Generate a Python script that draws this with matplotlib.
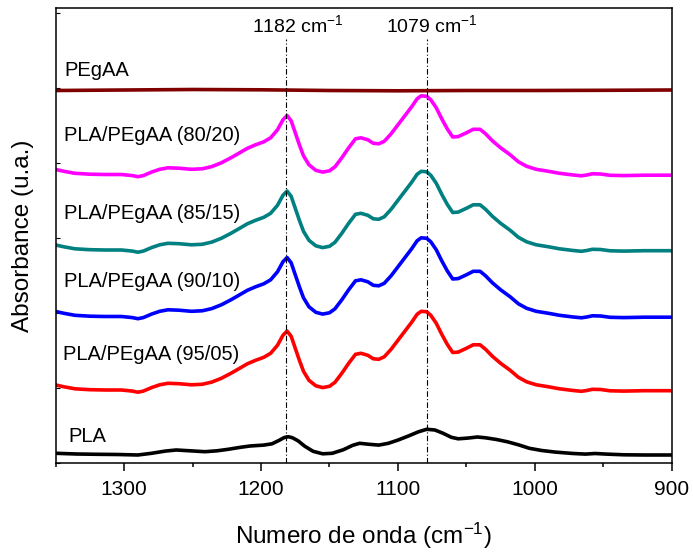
import matplotlib
matplotlib.use("Agg")
import numpy as np
import matplotlib.pyplot as plt
from matplotlib.ticker import MultipleLocator, NullFormatter

plt.rcParams['font.family'] = ['Liberation Sans', 'DejaVu Sans']
plt.rcParams['mathtext.fontset'] = 'custom'
plt.rcParams['mathtext.rm'] = 'Liberation Sans'
plt.rcParams['mathtext.it'] = 'Liberation Sans'

# wavenumber (cm-1) and absorbance (arbitrary units, stacked)
blend_wn = [1350, 1344, 1336, 1325, 1314, 1302, 1294, 1290, 1286, 1280,
            1274, 1268, 1260, 1251, 1243, 1236, 1229, 1222, 1215, 1210,
            1204, 1198, 1193, 1188, 1184, 1181, 1178, 1175, 1172, 1169,
            1165, 1160, 1155, 1150, 1146, 1141, 1136, 1131, 1127, 1122,
            1118, 1114, 1110, 1105, 1100, 1095, 1090, 1086, 1083, 1079,
            1076, 1072, 1068, 1064, 1060, 1056, 1050, 1045, 1040, 1036,
            1031, 1025, 1018, 1012, 1006, 999, 990, 982, 972, 966,
            962, 958, 952, 945, 935, 920, 900]
blend_abs = [0.783, 0.765, 0.745, 0.736, 0.733, 0.733, 0.722, 0.711, 0.722, 0.757,
             0.785, 0.800, 0.796, 0.785, 0.790, 0.812, 0.850, 0.900, 0.955, 0.995,
             1.030, 1.060, 1.100, 1.180, 1.280, 1.323, 1.270, 1.150, 1.030, 0.920,
             0.830, 0.775, 0.757, 0.770, 0.810, 0.900, 1.000, 1.090, 1.100, 1.080,
             1.045, 1.040, 1.065, 1.140, 1.230, 1.320, 1.410, 1.490, 1.520, 1.515,
             1.480, 1.400, 1.290, 1.190, 1.108, 1.112, 1.150, 1.185, 1.185, 1.140,
             1.070, 1.000, 0.930, 0.860, 0.815, 0.785, 0.765, 0.745, 0.728, 0.720,
             0.728, 0.740, 0.738, 0.725, 0.722, 0.726, 0.726]

# vertical offset of each blend in the stack
blend_names = ["PLA/PEgAA (95/05)", "PLA/PEgAA (90/10)", "PLA/PEgAA (85/15)", "PLA/PEgAA (80/20)"]
blend_offsets = [0.0, 0.735, 1.40, 2.155]
blend_colors = ["#FF0000", "#0000FF", "#008080", "#FF00FF"]

pla_wn = [1350, 1335, 1320, 1305, 1290, 1280, 1270, 1262, 1252, 1241,
          1232, 1224, 1215, 1208, 1198, 1192, 1187, 1183, 1180, 1177,
          1173, 1168, 1162, 1155, 1148, 1140, 1133, 1128, 1121, 1114,
          1107, 1100, 1092, 1085, 1079, 1073, 1067, 1061, 1056, 1049,
          1042, 1036, 1028, 1020, 1012, 1004, 995, 985, 972, 963,
          956, 948, 935, 920, 900]
pla_abs = [0.100, 0.093, 0.090, 0.088, 0.083, 0.100, 0.122, 0.133, 0.125, 0.116,
           0.125, 0.140, 0.160, 0.173, 0.182, 0.195, 0.228, 0.258, 0.266, 0.255,
           0.225, 0.170, 0.120, 0.095, 0.100, 0.135, 0.180, 0.200, 0.190, 0.182,
           0.200, 0.232, 0.275, 0.315, 0.340, 0.333, 0.300, 0.260, 0.245, 0.252,
           0.263, 0.255, 0.238, 0.215, 0.185, 0.150, 0.128, 0.112, 0.098, 0.092,
           0.098, 0.092, 0.085, 0.083, 0.083]

pegaa_wn = [1350, 1300, 1250, 1200, 1150, 1100, 1050, 1000, 950, 900]
pegaa_abs = [3.728, 3.733, 3.738, 3.735, 3.728, 3.725, 3.728, 3.728, 3.730, 3.733]

peaks = [1182, 1079]
peak_labels = ["1182 cm$^{-1}$", "1079 cm$^{-1}$"]
peak_label_x = [1173, 1075]

fig = plt.figure(figsize=(6.93, 5.52), dpi=100)
ax = fig.add_axes([0.0804, 0.1607, 0.8889, 0.8248])

lw = 2.6
ax.plot(pla_wn, pla_abs, color="black", lw=lw, solid_joinstyle="round")
for name, off, col in zip(blend_names, blend_offsets, blend_colors):
    ax.plot(blend_wn, np.array(blend_abs) + off, color=col, lw=lw, solid_joinstyle="round")
ax.plot(pegaa_wn, pegaa_abs, color="#800000", lw=lw, solid_joinstyle="round")

# peak markers
for p, lab, lx in zip(peaks, peak_labels, peak_label_x):
    ax.vlines(p, 0, 4.245, colors="black", lw=0.8, linestyles=(0, (5, 2, 1, 2)))
    ax.text(lx, 4.38, lab, ha="center", va="center", fontsize=14)

# curve labels
label_fs = 14.5
ax.text(1344, 3.933, "PEgAA", fontsize=label_fs, va="center", ha="left")
ax.text(1344, 3.283, blend_names[3], fontsize=label_fs, va="center", ha="left")
ax.text(1344, 2.50, blend_names[2], fontsize=label_fs, va="center", ha="left")
ax.text(1344, 1.816, blend_names[1], fontsize=label_fs, va="center", ha="left")
ax.text(1345, 1.083, blend_names[0], fontsize=label_fs, va="center", ha="left")
ax.text(1341, 0.266, "PLA", fontsize=label_fs, va="center", ha="left")

ax.set_xlim(1350, 900)
ax.set_ylim(0, 4.553)
ax.xaxis.set_major_locator(MultipleLocator(100))
ax.xaxis.set_minor_locator(MultipleLocator(50))
ax.yaxis.set_major_locator(MultipleLocator(0.75))
ax.yaxis.set_major_formatter(NullFormatter())
ax.tick_params(axis="x", which="major", direction="out", length=6, width=1.1, labelsize=15, pad=6)
ax.tick_params(axis="x", which="minor", direction="out", length=3, width=1.1)
ax.tick_params(axis="y", which="major", direction="in", length=3, width=0.8)
for s in ax.spines.values():
    s.set_linewidth(1.1)

ax.set_xlabel("Numero de onda (cm$^{-1}$)", fontsize=17.5, labelpad=16)
ax.set_ylabel("Absorbance (u.a.)", fontsize=17.5, labelpad=12)

fig.savefig("out.png", dpi=100)
